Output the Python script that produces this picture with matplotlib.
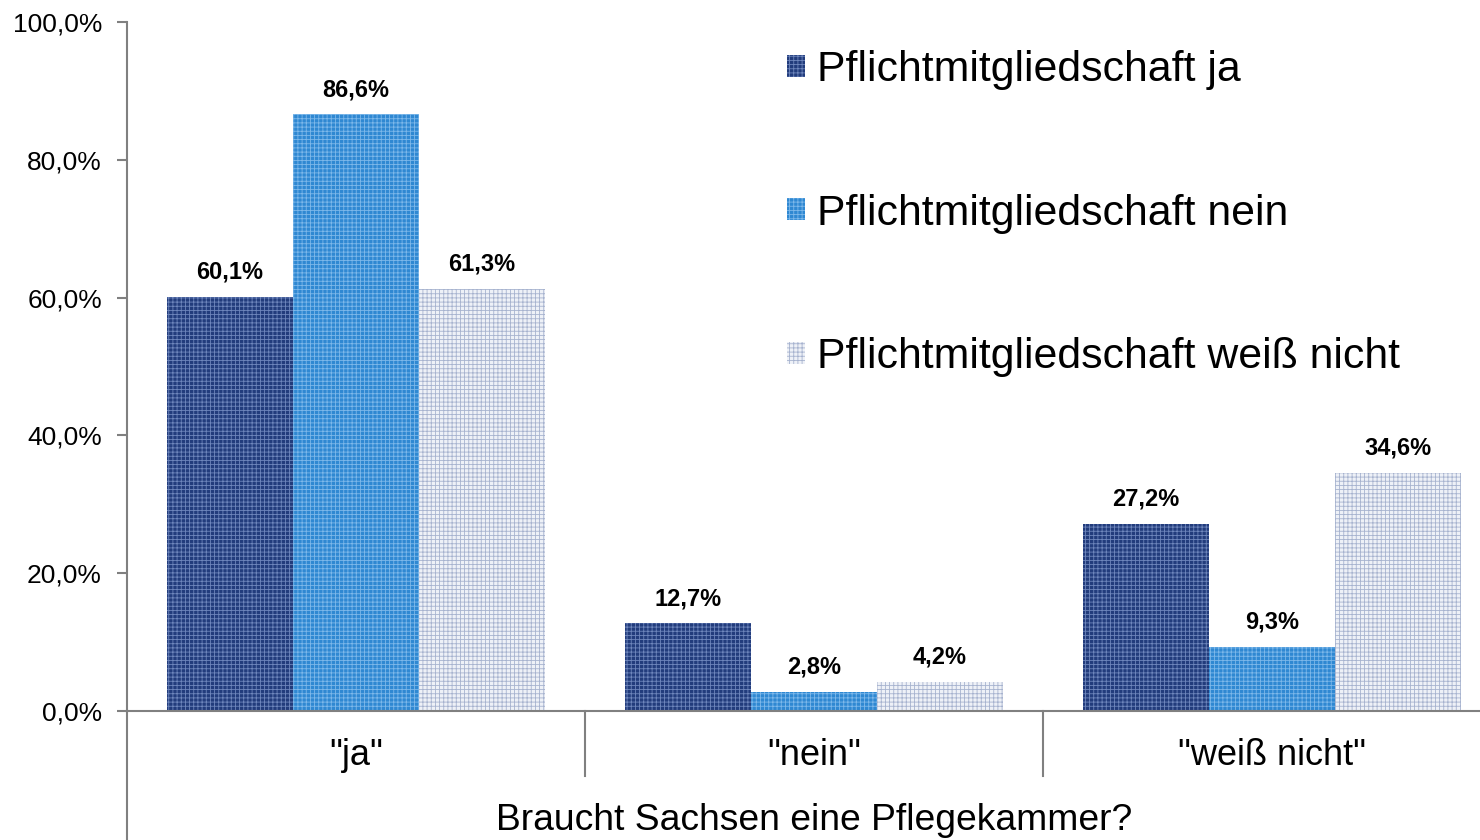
import numpy as np
from matplotlib import pyplot as plt

plt.rcParams['font.family'] = ['Liberation Sans', 'DejaVu Sans']
plt.rcParams['hatch.linewidth'] = 0.6

kategorien = ['"ja"', '"nein"', '"weiß nicht"']
serien = ['Pflichtmitgliedschaft ja', 'Pflichtmitgliedschaft nein', 'Pflichtmitgliedschaft weiß nicht']
pflicht_ja = [60.1, 12.7, 27.2]
pflicht_nein = [86.6, 2.8, 9.3]
pflicht_weiss_nicht = [61.3, 4.2, 34.6]
yticks = [0, 20, 40, 60, 80, 100]

werte = [pflicht_ja, pflicht_nein, pflicht_weiss_nicht]
farben = ['#223C7C', '#2F88D2', '#EEF1F7']
musterfarben = ['#6E86BC', '#7DB8EA', '#A7B3CF']

fig = plt.figure(figsize=(14.8, 8.4), dpi=100)
ax = fig.add_axes([127 / 1480, 129 / 840, 1374 / 1480, 689 / 840])

x = np.arange(len(kategorien))
breite = 0.275
for i, (w, fc, hc, name) in enumerate(zip(werte, farben, musterfarben, serien)):
    pos = x + (i - 1) * breite
    bars = ax.bar(pos, w, width=breite, color=fc, edgecolor=hc, linewidth=0,
                  hatch='++++', label=name)
    for b, v in zip(bars, w):
        ax.annotate(f'{v:.1f}%'.replace('.', ','), (b.get_x() + b.get_width() / 2, v),
                    xytext=(0, 9.5), textcoords='offset points', ha='center', va='bottom',
                    fontsize=17, fontweight='bold')

ax.set_xlim(-0.5, 2.5)
ax.set_ylim(0, 100)
ax.set_yticks(yticks)
ax.set_yticklabels([f'{t:.1f}%'.replace('.', ',') for t in yticks], fontsize=19)
ax.set_xticks(x)
ax.set_xticklabels(kategorien, fontsize=26)
ax.tick_params(axis='x', length=0, pad=19.5)
ax.tick_params(axis='y', length=7, color='#808080', width=1.5, direction='out', pad=11)

for s in ['top', 'right']:
    ax.spines[s].set_visible(False)
ax.spines['left'].set_color('#808080')
ax.spines['bottom'].set_color('#808080')
ax.spines['left'].set_linewidth(1.5)
ax.spines['bottom'].set_linewidth(1.5)

trans = ax.get_xaxis_transform()
ax.plot([-0.5, -0.5], [0, -0.19], transform=trans, color='#808080', lw=1.5, clip_on=False)
for sep in [0.5, 1.5]:
    ax.plot([sep, sep], [0, -0.094], transform=trans, color='#808080', lw=1.5, clip_on=False)

fig.text(814 / 1480, 1 - 821 / 840, 'Braucht Sachsen eine Pflegekammer?', ha='center', va='center',
         fontsize=26.8)

ax.legend(loc='upper left', bbox_to_anchor=(0.452, 1.015), frameon=False, fontsize=30.8,
          handlelength=0.42, handleheight=0.42, handletextpad=0.3, labelspacing=2.42)

plt.savefig('out.png', dpi=100)
